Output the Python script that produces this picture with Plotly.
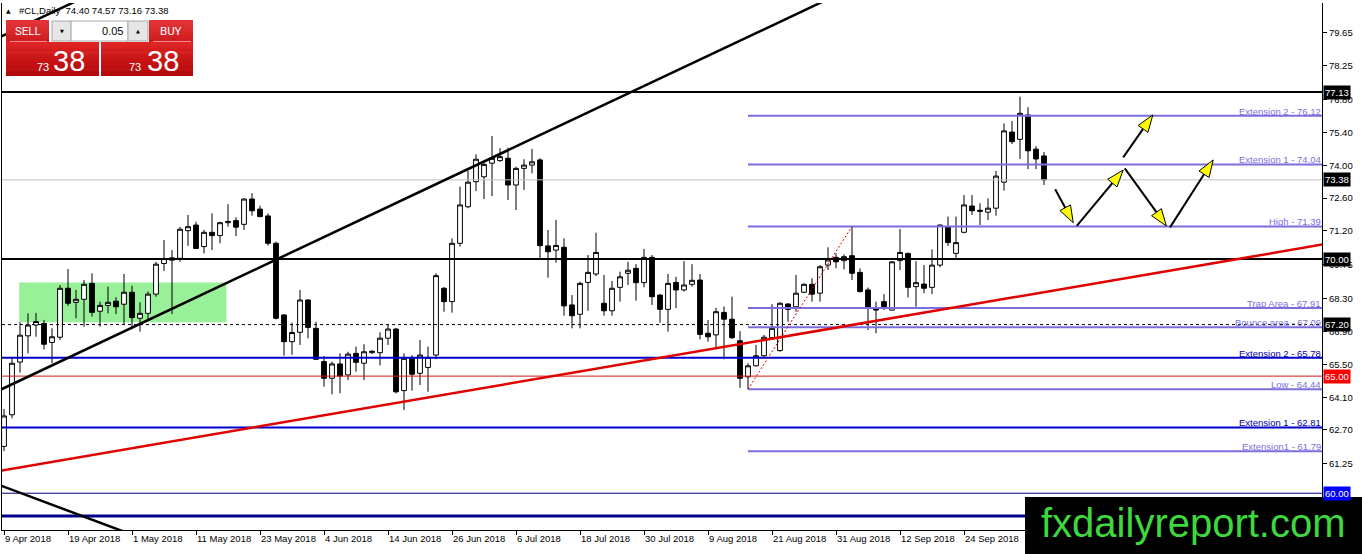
import math
import pandas as pd
import plotly.graph_objects as go

# ---------------- data ----------------
dates = pd.bdate_range("2018-04-09", periods=131)
bars = list(range(len(dates)))

opens = [62.0, 63.35, 65.6, 66.72, 67.18, 67.25, 66.44, 66.66, 68.75, 68.15,
         68.28, 68.96, 67.77, 68.02, 68.2, 68.07, 68.58, 67.47, 67.68, 68.5,
         69.81, 69.95, 70.03, 71.21, 71.45, 70.53, 71.14, 71.0, 71.55, 71.64,
         71.48, 72.56, 72.13, 71.84, 70.67, 67.61, 66.47, 66.87, 68.25, 67.04,
         65.62, 64.91, 65.52, 65.05, 65.97, 65.55, 66.0, 66.0, 66.62, 67.01,
         64.38, 65.79, 65.12, 65.37, 65.9, 68.75, 68.18, 70.67, 72.23, 73.3,
         73.51, 74.09, 74.2, 74.3, 73.16, 73.87, 74.01, 74.23, 70.56, 70.38,
         70.5, 68.04, 67.64, 69.0, 69.36, 68.11, 67.79, 68.79, 69.39, 69.6,
         68.99, 70.07, 68.46, 67.85, 69.0, 68.68, 68.92, 69.1, 66.83, 66.76,
         67.72, 67.43, 66.51, 64.97, 65.44, 65.87, 66.64, 66.09, 68.08, 67.96,
         68.58, 68.92, 68.54, 69.74, 70.07, 69.93, 70.14, 69.43, 68.68, 67.9,
         68.18, 67.82, 69.93, 70.24, 68.82, 68.93, 68.79, 69.74, 71.38, 70.24,
         71.14, 72.26, 72.08, 72.0, 72.17, 73.28, 75.42, 75.11, 76.15, 74.69,
         74.40]
highs = [63.6, 65.8, 67.3, 67.68, 67.7, 67.4, 67.04, 68.89, 69.57, 68.68,
         69.1, 69.39, 68.18, 68.82, 68.37, 69.36, 68.86, 68.15, 68.61, 69.88,
         70.81, 70.38, 71.37, 71.88, 71.59, 71.24, 71.95, 71.59, 72.34, 71.78,
         72.59, 72.81, 72.28, 71.95, 70.74, 67.65, 67.28, 68.68, 68.28, 67.32,
         65.86, 65.62, 65.97, 66.04, 66.26, 66.36, 66.1, 66.87, 67.21, 67.05,
         65.97, 65.9, 66.54, 66.26, 69.39, 68.8, 70.88, 73.09, 73.76, 74.47,
         74.15, 75.25, 74.73, 74.75, 73.94, 74.26, 74.7, 74.3, 71.24, 71.67,
         70.88, 68.46, 69.03, 70.17, 71.12, 69.32, 69.06, 69.46, 69.88, 69.78,
         70.43, 70.17, 68.5, 69.36, 69.24, 69.91, 69.78, 69.36, 67.4, 67.92,
         67.97, 68.39, 66.92, 65.55, 66.33, 66.76, 68.07, 68.15, 68.11, 69.32,
         68.96, 69.18, 69.74, 70.5, 70.24, 70.2, 71.39, 69.6, 68.78, 68.18,
         68.5, 69.91, 71.28, 70.27, 69.91, 69.74, 70.41, 71.47, 71.81, 71.81,
         72.73, 72.73, 72.38, 72.59, 73.76, 75.79, 75.89, 76.93, 76.48, 74.82,
         74.57]
lows = [61.8, 63.2, 65.15, 65.97, 66.68, 66.14, 65.55, 66.54, 68.0, 67.47,
        67.11, 67.54, 67.11, 67.68, 67.65, 67.2, 67.04, 66.9, 67.4, 68.39,
        69.49, 67.65, 69.88, 70.56, 70.43, 70.24, 70.38, 70.67, 71.38, 70.98,
        71.24, 71.85, 71.78, 70.57, 67.42, 65.87, 65.91, 66.33, 66.61, 65.69,
        64.55, 64.22, 64.27, 64.83, 65.19, 64.83, 65.95, 65.46, 66.33, 64.26,
        63.55, 64.38, 64.62, 64.33, 65.72, 67.75, 67.71, 70.53, 72.17, 72.9,
        72.56, 72.69, 74.15, 72.52, 72.09, 72.95, 73.66, 70.03, 69.2, 69.84,
        67.58, 67.04, 67.04, 67.79, 69.27, 67.58, 67.58, 68.18, 68.89, 68.22,
        68.79, 68.04, 67.28, 66.9, 67.9, 68.61, 68.82, 66.57, 66.47, 66.19,
        65.72, 66.58, 64.5, 64.44, 65.4, 65.83, 66.62, 66.04, 67.32, 67.75,
        68.54, 68.18, 68.18, 69.53, 69.6, 69.56, 69.1, 68.57, 66.97, 66.83,
        67.82, 67.8, 69.53, 68.36, 67.96, 68.54, 68.5, 69.65, 70.56, 70.03,
        71.1, 71.88, 71.45, 71.67, 71.85, 72.92, 74.91, 74.27, 73.84, 73.84,
        73.16]
closes = [63.3, 65.55, 66.75, 67.18, 67.33, 66.36, 66.68, 68.75, 68.11, 68.28,
          68.92, 67.72, 68.02, 68.15, 67.96, 68.58, 67.5, 67.68, 68.5, 69.78,
          70.02, 70.05, 71.27, 71.38, 70.45, 71.14, 71.0, 71.55, 71.6, 71.36,
          72.56, 72.06, 71.81, 70.67, 67.47, 66.47, 66.86, 68.25, 67.08, 65.72,
          64.91, 65.52, 65.0, 65.94, 65.59, 66.04, 66.06, 66.62, 67.01, 64.33,
          65.76, 65.08, 65.9, 65.8, 69.29, 68.18, 70.67, 72.31, 73.28, 74.26,
          74.04, 74.3, 74.37, 73.16, 73.87, 74.01, 74.15, 70.57, 70.31, 70.58,
          68.0, 67.58, 68.96, 69.43, 70.28, 67.79, 68.75, 69.24, 69.52, 68.99,
          70.07, 68.39, 67.85, 68.96, 68.68, 68.89, 69.09, 66.78, 66.68, 67.75,
          67.43, 66.64, 64.91, 65.44, 65.87, 66.66, 67.04, 68.11, 67.85, 68.54,
          68.92, 68.5, 69.67, 69.96, 69.88, 70.1, 69.39, 68.61, 67.9, 67.82,
          67.96, 69.88, 70.28, 68.79, 68.99, 68.75, 69.74, 71.45, 70.7, 70.7,
          72.31, 72.06, 72.04, 72.17, 73.54, 75.47, 75.01, 76.22, 74.62, 74.27,
          73.38]

tick_bars = [0, 8, 16, 24, 32, 40, 48, 56, 64, 72, 80, 88, 96, 104, 112, 120]
tick_labels = ["9 Apr 2018", "19 Apr 2018", "1 May 2018", "11 May 2018",
               "23 May 2018", "4 Jun 2018", "14 Jun 2018", "26 Jun 2018",
               "6 Jul 2018", "18 Jul 2018", "30 Jul 2018", "9 Aug 2018",
               "21 Aug 2018", "31 Aug 2018", "12 Sep 2018", "24 Sep 2018"]
price_ticks = [79.65, 78.25, 76.80, 75.40, 74.00, 72.60, 71.20, 69.75,
               68.30, 66.90, 65.50, 64.10, 62.70, 61.25]

# fibonacci style levels (start at the swing-low bar)
fib_start = 93
fib_levels = [76.12, 74.04, 71.39, 67.91, 67.09, 64.44, 61.79]
fib_labels = ["Extension 2 - 76.12", "Extension 1 - 74.04", "High - 71.39",
              "Trap Area - 67.91", "Bounce area - 67.09", "Low - 64.44",
              "Extension1 - 61.79"]
ext_levels = [65.78, 62.81]
ext_labels = ["Extension 2 - 65.78", "Extension 1 - 62.81"]

# horizontal levels
black_levels = [77.13, 70.00]
bid_level = 73.38
dash_level = 67.20
red_level = 65.00
navy_thin_level = 60.00
navy_thick_level = 59.03

# axis price boxes
box_prices = [77.13, 73.38, 70.00, 67.20, 65.00, 60.00]
box_colors = ["#000000", "#000000", "#000000", "#000000", "#FF0000", "#0000FF"]

# trend lines (bar index, price)
up_line_x, up_line_y = [-0.5, 125.0], [64.41, 84.64]
upper_line_x, upper_line_y = [-0.5, 20.0], [79.48, 82.78]
down_line_x, down_line_y = [-0.5, 20.0], [60.34, 57.72]
red_line_x, red_line_y = [-0.5, 165.0], [60.96, 70.63]
swing_x, swing_y = [93, 106], [64.44, 71.39]

# green zone
zone_x = [1.9, 27.8]
zone_y = [67.3, 69.0]

# projected path arrows (start bar, start price, end bar, end price)
arrow_x0 = [131.4, 134.1, 140.1, 145.75, 139.9]
arrow_y0 = [72.98, 71.41, 73.87, 71.35, 74.34]
arrow_x1 = [133.66, 139.9, 145.3, 151.15, 143.6]
arrow_y1 = [71.55, 73.80, 71.41, 74.23, 76.15]

header_text = "#CL,Daily\u00a0\u00a074.40 74.57 73.16 73.38"

# ---------------- layout geometry ----------------
W, H = 1362, 554
ML, MR, MT, MB = 2, 40, 3, 24
X0, X1 = -0.25, 164.75
Y0, Y1 = 58.43, 80.93
PW, PH = W - ML - MR, H - MT - MB
SX = PW / (X1 - X0)
SY = PH / (Y1 - Y0)
FONT = "Liberation Sans, Arial, sans-serif"


def paper(xp, yp):
    return (xp - ML) / PW, (H - MB - yp) / PH


fig = go.Figure()

fig.add_trace(go.Candlestick(
    x=bars, open=opens, high=highs, low=lows, close=closes,
    increasing=dict(line=dict(color="black", width=1), fillcolor="white"),
    decreasing=dict(line=dict(color="black", width=1), fillcolor="black"),
    whiskerwidth=0, hoverinfo="skip", showlegend=False))


def line(xs, ys, color, width, dash="solid"):
    fig.add_trace(go.Scatter(x=xs, y=ys, mode="lines",
                             line=dict(color=color, width=width, dash=dash),
                             hoverinfo="skip", showlegend=False))


line([X0, X1], [bid_level] * 2, "#C0C0C0", 1)
for lv in black_levels:
    line([X0, X1], [lv] * 2, "black", 2)
line([X0, X1], [dash_level] * 2, "black", 1, "3px,3px")
line([X0, X1], [red_level] * 2, "#D01818", 1)
for lv in ext_levels:
    line([X0, X1], [lv] * 2, "#0000CD", 2)
line([X0, X1], [navy_thin_level] * 2, "#000080", 1)
line([X0, X1], [navy_thick_level] * 2, "#00008B", 3)
for lv in fib_levels:
    line([fib_start, X1], [lv] * 2, "#7B6FE0", 2)

line(red_line_x, red_line_y, "#E00000", 2.5)
line(up_line_x, up_line_y, "black", 2.5)
line(upper_line_x, upper_line_y, "black", 2.5)
line(down_line_x, down_line_y, "black", 2.5)
line(swing_x, swing_y, "#E00000", 1, "2px,2px")

# arrows: black shaft + yellow head with black outline
HEAD_LEN, HEAD_HALF = 17, 6
for xa, ya, xb, yb in zip(arrow_x0, arrow_y0, arrow_x1, arrow_y1):
    ax, ay = xa * SX, -ya * SY
    bx, by = xb * SX, -yb * SY
    dx, dy = bx - ax, by - ay
    n = math.hypot(dx, dy)
    ux, uy = dx / n, dy / n
    cx, cy = bx - ux * HEAD_LEN, by - uy * HEAD_LEN
    p1 = (cx - uy * HEAD_HALF, cy + ux * HEAD_HALF)
    p2 = (cx + uy * HEAD_HALF, cy - ux * HEAD_HALF)
    line([xa, cx / SX], [ya, -cy / SY], "black", 2)
    fig.add_trace(go.Scatter(
        x=[xb, p1[0] / SX, p2[0] / SX, xb], y=[yb, -p1[1] / SY, -p2[1] / SY, yb],
        mode="lines", fill="toself", fillcolor="#FFFF00",
        line=dict(color="black", width=1), hoverinfo="skip", showlegend=False))

shapes = [dict(type="rect", xref="x", yref="y", x0=zone_x[0], x1=zone_x[1],
               y0=zone_y[0], y1=zone_y[1], fillcolor="#98F098",
               line=dict(width=0), layer="below")]
anns = []


def prect(x0, y0, x1, y1, fill, lc=None, lw=0):
    a = paper(x0, y0)
    b = paper(x1, y1)
    shapes.append(dict(type="rect", xref="paper", yref="paper",
                       x0=a[0], x1=b[0], y0=b[1], y1=a[1], fillcolor=fill,
                       line=dict(width=lw, color=lc or fill), layer="above"))


def grad(x0, y0, x1, y1, c0, c1, n=10):
    for k in range(n):
        t = k / (n - 1)
        c = tuple(round(c0[i] + (c1[i] - c0[i]) * t) for i in range(3))
        ya = y0 + (y1 - y0) * k / n
        yb = y0 + (y1 - y0) * (k + 1) / n + 0.6
        prect(x0, ya, x1, min(yb, y1), "rgb(%d,%d,%d)" % c)


def ptext(text, x, y, size, color, xanchor="left", family=FONT, bg=None, pad=0):
    xp, yp = paper(x, y)
    d = dict(text=text, xref="paper", yref="paper", x=xp, y=yp,
             xanchor=xanchor, yanchor="middle", showarrow=False,
             font=dict(size=size, color=color, family=family), borderpad=pad)
    if bg:
        d["bgcolor"] = bg
    anns.append(d)


# level labels
for lv, tx in zip(fib_levels, fib_labels):
    anns.append(dict(text=tx, xref="paper", x=1, xanchor="right", yref="y",
                     y=lv, yanchor="bottom", yshift=-2, showarrow=False,
                     font=dict(size=9.5, color="#7B6FE0", family=FONT), borderpad=0))
for lv, tx in zip(ext_levels, ext_labels):
    anns.append(dict(text=tx, xref="paper", x=1, xanchor="right", yref="y",
                     y=lv, yanchor="bottom", yshift=-2, showarrow=False,
                     font=dict(size=9.5, color="#0000A8", family=FONT), borderpad=0))
for lv, col in zip(box_prices, box_colors):
    anns.append(dict(text="%.2f" % lv, xref="paper", x=1, xanchor="left",
                     xshift=1, yref="y", y=lv, yanchor="middle", showarrow=False,
                     bgcolor=col, borderpad=1,
                     font=dict(size=9.5, color="white", family=FONT)))

# header line
ptext("\u25B2", 5, 10, 6, "black", family="DejaVu Sans")
ptext(header_text, 18, 10.5, 9.5, "black")

# one-click trading panel
grad(6, 20, 49, 42, (226, 52, 54), (206, 30, 33), 6)
grad(149, 20, 193, 42, (226, 52, 54), (206, 30, 33), 6)
prect(10, 41, 47, 42, "#F08A8A")
prect(153, 41, 191, 42, "#F08A8A")
grad(6, 42, 99, 76, (222, 36, 36), (178, 8, 10), 10)
grad(101, 42, 193, 76, (222, 36, 36), (178, 8, 10), 10)
prect(52, 21, 71, 41, "#E6E6E6", "#A8A8A8", 1)
prect(71, 21, 128, 41, "#FFFFFF", "#A8A8A8", 1)
prect(128, 21, 148, 41, "#E6E6E6", "#A8A8A8", 1)
ptext("\u25BC", 61.5, 31, 5, "black", "center", "DejaVu Sans")
ptext("\u25B2", 138, 31, 5, "black", "center", "DejaVu Sans")
ptext("0.05", 124, 31, 11, "black", "right")
ptext("SELL", 27.5, 31, 11.5, "white", "center", "Roboto, " + FONT)
ptext("BUY", 171, 31, 11.5, "white", "center", "Roboto, " + FONT)
ptext("73", 36, 66.5, 11, "white")
ptext("38", 52, 60.5, 29, "white")
ptext("73", 128, 66.5, 11, "white")
ptext("38", 146, 60.5, 29, "white")

# watermark
prect(1025, 497, 1362, 554, "#000000")
ptext("fxdailyreport.com", 1193, 523, 40, "#3ED83E", "center", FONT)

fig.update_layout(
    template="none",
    width=W, height=H, margin=dict(l=ML, r=MR, t=MT, b=MB, pad=0),
    paper_bgcolor="white", plot_bgcolor="white",
    showlegend=False, shapes=shapes, annotations=anns,
    boxgap=0.4, boxgroupgap=0, dragmode=False,
    font=dict(family=FONT, size=9.5, color="black"),
    xaxis=dict(range=[X0, X1], showgrid=False, zeroline=False, automargin=False,
               rangeslider=dict(visible=False), tickmode="array",
               tickvals=tick_bars, ticktext=tick_labels,
               ticklabelposition="outside right", ticks="outside",
               ticklen=4, tickcolor="black", showline=True,
               linecolor="black", linewidth=1,
               tickfont=dict(size=9.5, family=FONT, color="black")),
    yaxis=dict(range=[Y0, Y1], side="right", showgrid=False, zeroline=False,
               automargin=False,
               tickmode="array", tickvals=price_ticks,
               ticktext=["%.2f" % v for v in price_ticks], ticks="outside",
               ticklen=4, tickcolor="black", showline=True, mirror=True,
               linecolor="black", linewidth=1,
               tickfont=dict(size=9.5, family=FONT, color="black")),
)

fig.write_html(
    "out.html",
    config={"displayModeBar": False, "staticPlot": True},
    post_script="document.body.style.margin='0';document.body.style.padding='0';"
                "document.body.style.overflow='hidden';",
)
